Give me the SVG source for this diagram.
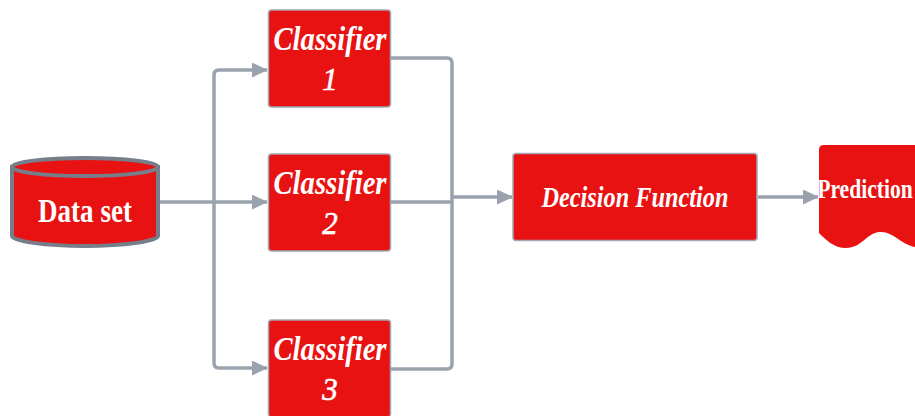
<svg xmlns="http://www.w3.org/2000/svg" width="915" height="416" viewBox="0 0 915 416">
<style>
.box{fill:#e81212;stroke:#a3a9b3;stroke-width:1.5}
.c{fill:none;stroke:#9aa2ae;stroke-width:3.500;stroke-linejoin:round}
.t{font-family:"Liberation Serif",serif;fill:#fff;text-anchor:middle;font-weight:700}
.i{font-style:italic;font-size:33px}
.n{font-style:italic;font-size:31px;font-weight:400;stroke:#fff;stroke-width:.6px}
</style>
<defs><marker id="a" markerUnits="userSpaceOnUse" markerWidth="17" markerHeight="15" refX="15" refY="7.500" orient="auto"><path d="M0 0L16 7.500L0 15Z" fill="#9aa2ae"/></marker></defs>
<rect width="915" height="416" fill="#fff"/>
<g id="connectors">
<path class="c" marker-end="url(#a)" d="M160 202H267"/>
<path class="c" marker-end="url(#a)" d="M214 202V75Q214 70 219 70H267"/>
<path class="c" marker-end="url(#a)" d="M214 202V363Q214 368 219 368H267"/>
<path class="c" d="M391 58H447Q452 58 452 63V364Q452 369 447 369H391"/>
<path class="c" d="M391 202H452"/>
<path class="c" marker-end="url(#a)" d="M452 197H512"/>
<path class="c" marker-end="url(#a)" d="M758 197H818"/>
</g>
<g id="dataset">
<path d="M12 167V236C12 241 45 246 85 246S158 241 158 236V167Z" fill="#e81212" stroke="#767e89" stroke-width="4"/>
<ellipse cx="85" cy="167" rx="73" ry="9" fill="#e81212" stroke="#767e89" stroke-width="4"/>
<text class="t" x="85" y="222" font-size="33" textLength="94" lengthAdjust="spacingAndGlyphs">Data set</text>
</g>
<g id="classifier1"><rect class="box" x="268.500" y="10" width="122" height="97" rx="3"/>
<text class="t i" x="330" y="50" textLength="113" lengthAdjust="spacingAndGlyphs">Classifier</text><text class="t n" x="330" y="90">1</text></g>
<g id="classifier2"><rect class="box" x="268.500" y="154" width="122" height="97" rx="3"/>
<text class="t i" x="330" y="194" textLength="113" lengthAdjust="spacingAndGlyphs">Classifier</text><text class="t n" x="330" y="234">2</text></g>
<g id="classifier3"><rect class="box" x="268.500" y="320" width="122" height="97" rx="3"/>
<text class="t i" x="330" y="360" textLength="113" lengthAdjust="spacingAndGlyphs">Classifier</text><text class="t n" x="330" y="400">3</text></g>
<g id="decision"><rect class="box" x="513" y="153.500" width="244" height="87" rx="3"/>
<text class="t i" x="635" y="207" style="font-size:29px" textLength="187" lengthAdjust="spacingAndGlyphs">Decision Function</text></g>
<g id="prediction">
<path d="M819 150Q819 145 824 145H915V247C900 244 893 231 880 232C866 233 862 248 846 248C834 248 826 240 819 233Z" fill="#e81212"/>
<text class="t" transform="translate(865 198) scale(.8 1)" font-size="27">Prediction</text></g>
</svg>
